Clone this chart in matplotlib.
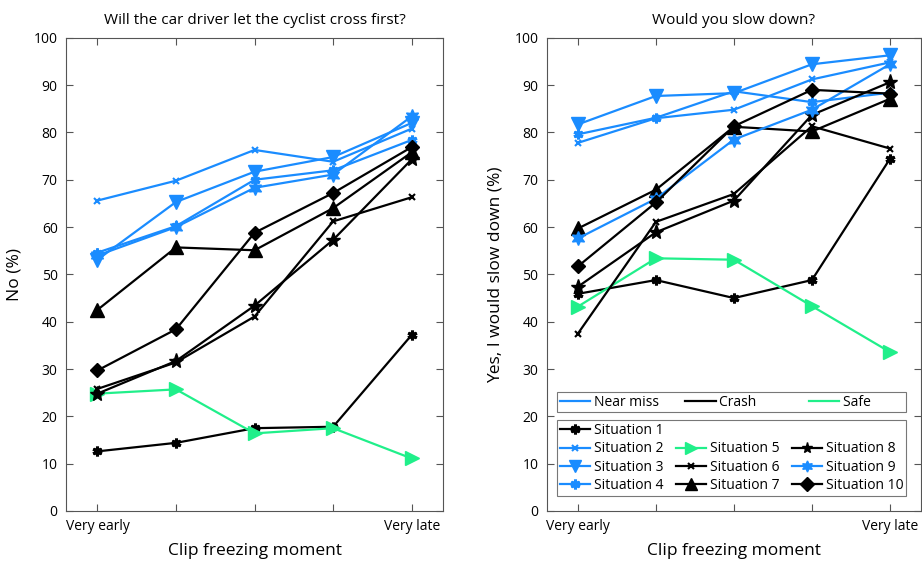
import numpy as np
import matplotlib
matplotlib.use("Agg")
import matplotlib.pyplot as plt
from matplotlib.lines import Line2D

plt.rcParams['font.family'] = ['Open Sans', 'DejaVu Sans']

moments = [1, 2, 3, 4, 5]
moment_labels = ['Very early', '', '', '', 'Very late']

situations = ['Situation %d' % i for i in range(1, 11)]
# 'near', 'crash', 'safe'
sit_type = ['crash', 'near', 'near', 'near', 'safe', 'crash', 'crash', 'crash', 'near', 'crash']

# Will the car driver let the cyclist cross first? (No, %)
let_cross = [
    [12.6, 14.4, 17.5, 17.8, 37.2],
    [65.6, 69.8, 76.3, 73.8, 80.8],
    [53.1, 65.3, 71.7, 74.8, 82.0],
    [54.6, 60.2, 70.0, 72.0, 78.4],
    [24.8, 25.7, 16.4, 17.5, 11.1],
    [25.8, 31.4, 41.1, 61.2, 66.3],
    [42.5, 55.7, 55.1, 64.0, 75.8],
    [24.8, 31.7, 43.4, 57.3, 74.3],
    [54.0, 60.0, 68.3, 71.1, 83.4],
    [29.7, 38.4, 58.8, 67.2, 76.9],
]

# Would you slow down? (Yes, %)
slow_down = [
    [45.9, 48.8, 45.0, 48.8, 74.4],
    [77.8, 83.0, 84.8, 91.2, 94.8],
    [81.7, 87.7, 88.3, 94.4, 96.3],
    [79.6, 83.1, 88.7, 86.4, 88.4],
    [43.2, 53.4, 53.1, 43.3, 33.6],
    [37.5, 61.1, 67.0, 81.3, 76.6],
    [59.7, 67.9, 81.2, 80.2, 87.1],
    [47.4, 58.9, 65.6, 83.7, 90.6],
    [57.6, 66.0, 78.5, 84.8, 94.4],
    [51.7, 65.2, 81.3, 89.0, 88.2],
]

colors = {'near': '#1a8cff', 'crash': '#000000', 'safe': '#20ef8a'}
markers = [(6, 2, 0), 'x', 'v', (6, 2, 0), '>', 'x', '^', '*', (6, 1, 0), 'D']
msizes = [7, 5, 10, 7, 10, 5, 10, 11, 10, 7]
mews = [2.2, 1.5, 1, 2.2, 1, 1.5, 1, 1, 1, 1]

fig = plt.figure(figsize=(9.22, 5.64), dpi=100)
ax1 = fig.add_axes([0.0716, 0.094, 0.409, 0.839])
ax2 = fig.add_axes([0.593, 0.094, 0.406, 0.839])


def draw(ax, data, title, ylabel):
    handles = []
    for i, vals in enumerate(data):
        c = colors[sit_type[i]]
        h, = ax.plot(moments, vals, color=c, lw=1.6, marker=markers[i],
                     ms=msizes[i], mew=mews[i], mfc=c, mec=c, label=situations[i])
        handles.append(h)
    ax.set_xlim(0.6, 5.4)
    ax.set_ylim(0, 100)
    ax.set_xticks(moments)
    ax.set_xticklabels(moment_labels)
    ax.set_yticks(np.arange(0, 101, 10))
    ax.tick_params(direction='in', top=True, right=True, length=5,
                   color='#555555', labelsize=10, pad=6)
    for s in ax.spines.values():
        s.set_color('#555555')
        s.set_linewidth(0.8)
    ax.set_title(title, fontsize=11, pad=10)
    ax.set_xlabel('Clip freezing moment', fontsize=12.5, labelpad=6)
    ax.set_ylabel(ylabel, fontsize=12.5, labelpad=8)
    return handles


draw(ax1, let_cross, 'Will the car driver let the cyclist cross first?', 'No (%)')
hs = draw(ax2, slow_down, 'Would you slow down?', 'Yes, I would slow down (%)')

# type legend: equal-width columns like the original (labels padded)
type_handles = [Line2D([], [], color=colors[k], lw=1.6) for k in ['near', 'crash', 'safe']]
leg1 = ax2.legend(type_handles, ['Near miss', 'Crash       ', 'Safe         '], ncol=3,
                  loc='upper left', bbox_to_anchor=(0.027, 0.207, 0.933, 0.045),
                  mode='expand', fontsize=10, frameon=True, fancybox=False,
                  edgecolor='#555555', handlelength=2.2, handletextpad=0.25,
                  borderpad=0.2, borderaxespad=0)
leg1.get_frame().set_linewidth(0.8)
ax2.add_artist(leg1)

blank = Line2D([], [], alpha=0)
order = [hs[0], hs[1], hs[2], hs[3], blank, hs[4], hs[5], hs[6], blank, hs[7], hs[8], hs[9]]
labs = ['Situation 1', 'Situation 2', 'Situation 3', 'Situation 4', ' ',
        'Situation 5', 'Situation 6', 'Situation 7', ' ',
        'Situation 8', 'Situation 9', 'Situation 10']
leg2 = ax2.legend(order, labs, ncol=3, loc='upper left',
                  bbox_to_anchor=(0.027, 0.032, 0.933, 0.160), mode='expand',
                  fontsize=10, frameon=True, fancybox=False, edgecolor='#555555',
                  handlelength=2.2, handletextpad=0.25, borderpad=0.2,
                  labelspacing=0.25, columnspacing=0.6, borderaxespad=0)
leg2.get_frame().set_linewidth(0.8)
for h in leg2.legend_handles:
    if isinstance(h, Line2D) and h.get_alpha() != 0:
        h.set_markersize(min(h.get_markersize(), 8))

fig.savefig('out.png', dpi=100, facecolor='white')
